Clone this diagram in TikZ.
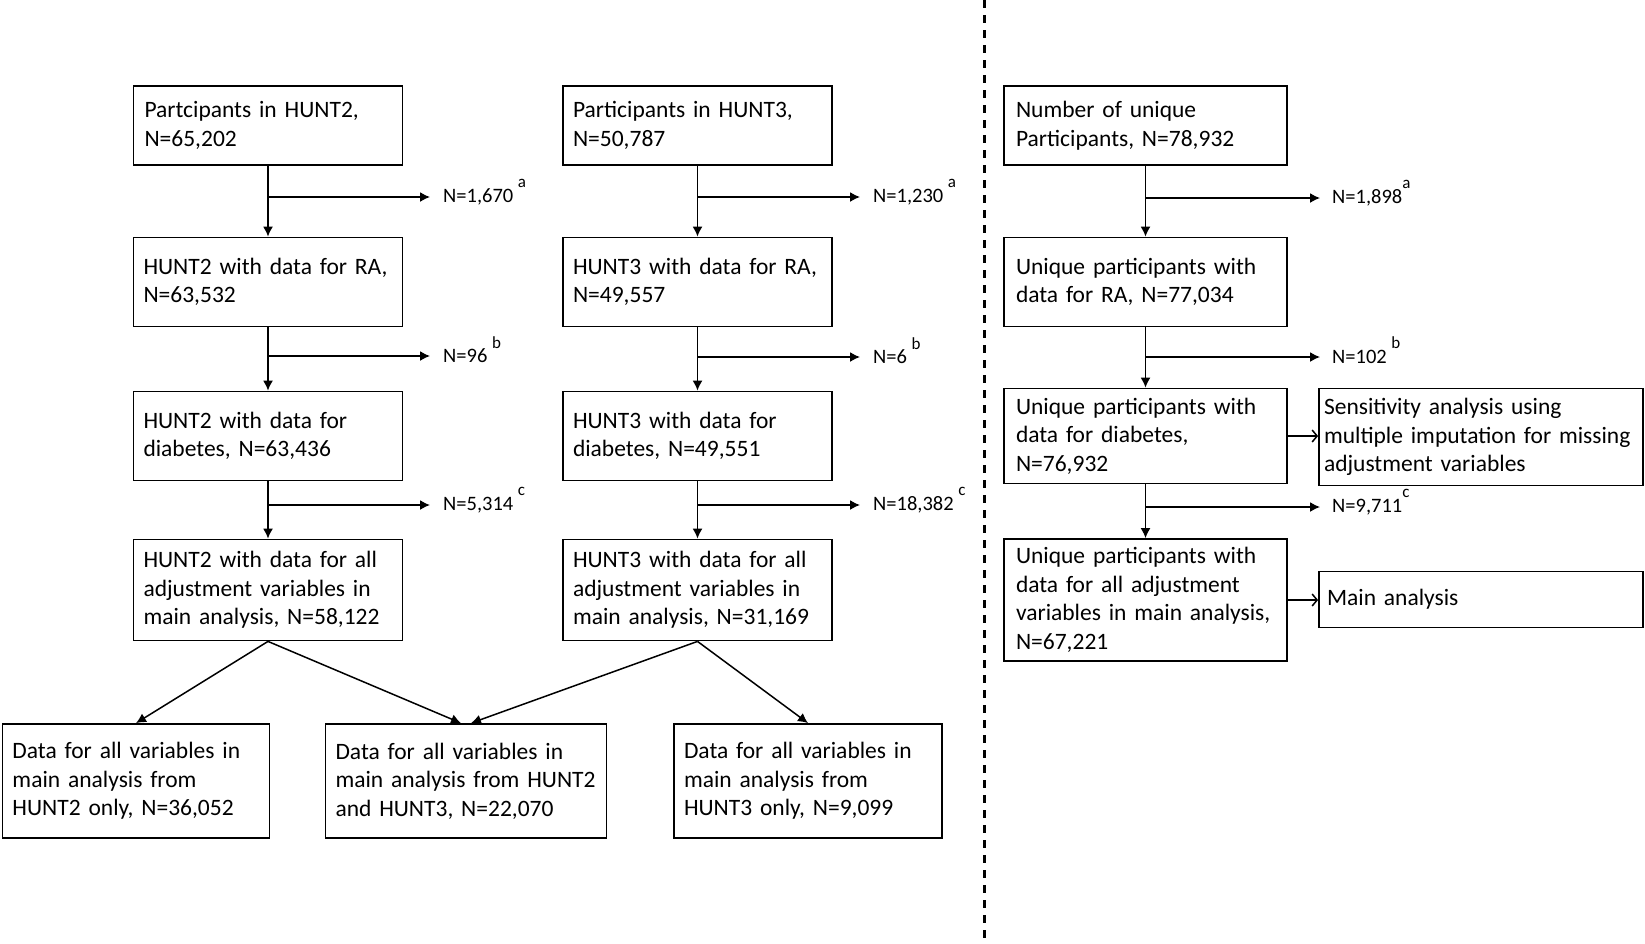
\documentclass[tikz,border=0pt]{standalone}
\usepackage{fontspec}
\setmainfont{Carlito}
\usetikzlibrary{arrows.meta}
\newcommand{\fnmark}[1]{\smash{\raisebox{0.72em}{\fontsize{17}{17}\selectfont #1}}}
\tikzset{
  box/.style={draw, line width=1.8pt, align=left, inner xsep=10pt, inner ysep=0pt,
    font=\fontsize{23.5}{28.5}\selectfont},
  excl/.style={anchor=west, inner xsep=13pt, inner ysep=2pt, font=\fontsize{20.5}{24}\selectfont},
  flow/.style={line width=1.5pt, -{Latex[length=10pt,width=10pt]}},
  side/.style={line width=1.5pt, -{Straight Barb[length=5pt,width=12pt]}},
}
\begin{document}
\begin{tikzpicture}[x=1pt,y=-1pt]
\useasboundingbox (0,0) rectangle (1645,943);
\draw[line width=3pt, dash pattern=on 8pt off 7pt] (984,0) -- (984,943);

\node[box, inner xsep=11pt, text width=247pt, minimum height=79pt] (a1) at (268,125.5) {Partcipants in HUNT2,\\ N=65,202};
\node[box, text width=249pt, minimum height=89pt] (a2) at (268,282) {HUNT2 with data for RA,\\ N=63,532};
\node[box, text width=249pt, minimum height=89pt] (a3) at (268,436) {HUNT2 with data for\\ diabetes, N=63,436};
\node[box, text width=249pt, minimum height=101pt] (a4) at (268,590) {HUNT2 with data for all\\ adjustment variables in\\ main analysis, N=58,122};

\node[box, text width=249pt, minimum height=79pt] (b1) at (697.5,125.5) {Participants in HUNT3,\\ N=50,787};
\node[box, text width=249pt, minimum height=89pt] (b2) at (697.5,282) {HUNT3 with data for RA,\\ N=49,557};
\node[box, text width=249pt, minimum height=89pt] (b3) at (697.5,436) {HUNT3 with data for\\ diabetes, N=49,551};
\node[box, text width=249pt, minimum height=101pt] (b4) at (697.5,590) {HUNT3 with data for all\\ adjustment variables in\\ main analysis, N=31,169};

\node[box, inner xsep=12pt, text width=259pt, minimum height=79pt] (c1) at (1145.5,125.5) {Number of unique\\ Participants, N=78,932};
\node[box, inner xsep=12pt, text width=259pt, minimum height=89pt] (c2) at (1145.5,282) {Unique participants with\\ data for RA, N=77,034};
\node[box, inner xsep=12pt, text width=259pt, minimum height=95pt] (c3) at (1145.5,436) {Unique participants with\\ data for diabetes,\\ N=76,932};
\node[box, inner xsep=12pt, text width=259pt, minimum height=122pt] (c4) at (1145.5,600) {Unique participants with\\ data for all adjustment\\ variables in main analysis,\\ N=67,221};
\node[box, inner xsep=5pt, text width=314pt, minimum height=97pt] (sens) at (1481,437) {Sensitivity analysis using\\ multiple imputation for missing\\ adjustment variables};
\node[box, inner xsep=8pt, text width=308pt, minimum height=56pt] (main) at (1481,599.5) {Main analysis};

\node[box, text width=247pt, minimum height=114pt] (d1) at (136,781) {Data for all variables in\\ main analysis from\\ HUNT2 only, N=36,052};
\node[box, text width=261pt, minimum height=114pt] (d2) at (466,781) {Data for all variables in\\ main analysis from HUNT2\\ and HUNT3, N=22,070};
\node[box, text width=248pt, minimum height=114pt] (d3) at (808,781) {Data for all variables in\\ main analysis from\\ HUNT3 only, N=9,099};

\node[excl] (x1) at (430,197) {N=1,670 \fnmark{a}};
\node[excl] (x2) at (430,356) {N=96 \fnmark{b}};
\node[excl] (x3) at (430,505) {N=5,314 \fnmark{c}};
\node[excl] (y1) at (860,197) {N=1,230 \fnmark{a}};
\node[excl] (y2) at (860,357) {N=6 \fnmark{b}};
\node[excl] (y3) at (860,505) {N=18,382 \fnmark{c}};
\node[excl, inner xsep=12pt] (z1) at (1320,198) {N=1,898\fnmark{a}};
\node[excl, inner xsep=12pt] (z2) at (1320,357) {N=102 \fnmark{b}};
\node[excl, inner xsep=12pt] (z3) at (1320,507) {N=9,711\fnmark{c}};

\draw[flow] (a1) -- (a2);
\draw[flow] (a2) -- (a3);
\draw[flow] (a3) -- (a4);
\draw[flow] (b1) -- (b2);
\draw[flow] (b2) -- (b3);
\draw[flow] (b3) -- (b4);
\draw[flow] (c1) -- (c2);
\draw[flow] (c2) -- (c3);
\draw[flow] (c3) -- (c4);

\draw[flow] (a1.south |- x1.west) -- (x1.west);
\draw[flow] (a2.south |- x2.west) -- (x2.west);
\draw[flow] (a3.south |- x3.west) -- (x3.west);
\draw[flow] (b1.south |- y1.west) -- (y1.west);
\draw[flow] (b2.south |- y2.west) -- (y2.west);
\draw[flow] (b3.south |- y3.west) -- (y3.west);
\draw[flow] (c1.south |- z1.west) -- (z1.west);
\draw[flow] (c2.south |- z2.west) -- (z2.west);
\draw[flow] (c3.south |- z3.west) -- (z3.west);

\draw[side] (c3.east) -- (c3.east -| sens.west);
\draw[side] (c4.east) -- (c4.east -| main.west);

\draw[flow] (a4.south) -- (d1.north);
\draw[flow] (a4.south) -- ([xshift=-5pt]d2.north);
\draw[flow] (b4.south) -- ([xshift=5pt]d2.north);
\draw[flow] (b4.south) -- (d3.north);
\end{tikzpicture}
\end{document}
